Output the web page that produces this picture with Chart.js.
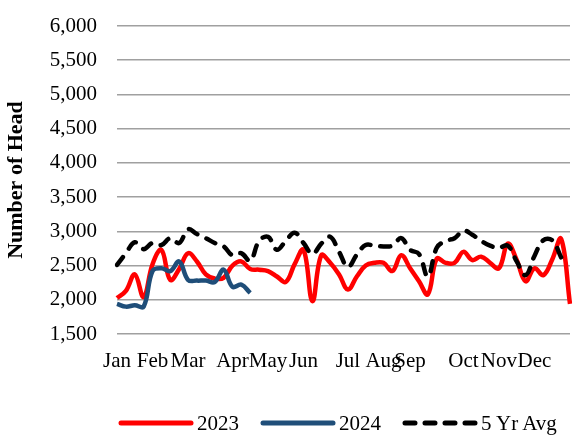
<!DOCTYPE html>
<html>
<head>
<meta charset="utf-8">
<script src="https://cdn.jsdelivr.net/npm/chart.js@4.4.1/dist/chart.umd.min.js"></script>
<style>
  html, body { margin: 0; padding: 0; background: #fff; }
  #wrap { position: relative; width: 577px; height: 436px; overflow: hidden; }
  #legend {
    position: absolute; left: 118px; top: 412px; height: 22px;
    display: flex; align-items: center; white-space: nowrap;
    font-family: "Liberation Serif", "Times New Roman", serif; font-size: 21px; line-height: 22px; color: #000;
  }
  #legend .item { display: flex; align-items: center; margin-right: 21px; white-space: nowrap; flex-shrink: 0; }
  #legend svg { margin-right: 3px; }
</style>
</head>
<body>
<div id="wrap">
  <canvas id="chart" width="577" height="436"></canvas>
  <div id="legend"></div>
</div>
<script>
// weekly head counts, 52 weeks
const monthNames = ['Jan', 'Feb', 'Mar', 'Apr', 'May', 'Jun', 'Jul', 'Aug', 'Sep', 'Oct', 'Nov', 'Dec'];
const monthStartWeek = [0, 4, 8, 13, 17, 21, 26, 30, 33, 39, 43, 47];

const data2023 = [2025, 2130, 2370, 2040, 2520, 2730, 2290, 2450, 2680, 2560,
  2370, 2310, 2320, 2500, 2560, 2450, 2440, 2420, 2340, 2260,
  2520, 2730, 1980, 2650, 2540, 2370, 2150, 2340, 2500, 2540,
  2540, 2420, 2650, 2460, 2270, 2080, 2600, 2540, 2540, 2700,
  2580, 2630, 2540, 2460, 2820, 2580, 2270, 2460, 2360, 2590,
  2890, 1940];

const data2024 = [1940, 1900, 1920, 1900, 2420, 2460, 2420, 2560, 2290, 2280,
  2280, 2260, 2440, 2190, 2220, 2100];

const data5yr = [2510, 2680, 2840, 2740, 2830, 2800, 2900, 2830, 3030, 2960,
  2900, 2830, 2780, 2650, 2680, 2570, 2860, 2920, 2730, 2860,
  2980, 2830, 2670, 2820, 2920, 2700, 2480, 2660, 2800, 2790,
  2780, 2790, 2900, 2730, 2670, 2340, 2760, 2860, 2900, 3010,
  2950, 2860, 2790, 2760, 2790, 2560, 2360, 2640, 2870, 2870,
  2620, null];

const weekLabels = data2023.map((v, i) => {
  const m = monthStartWeek.indexOf(i);
  return m >= 0 ? monthNames[m] : '';
});

const serif = '"Liberation Serif", "Times New Roman", serif';

const chart = new Chart(document.getElementById('chart'), {
  type: 'line',
  data: {
    labels: weekLabels,
    datasets: [
      {
        label: '2023',
        data: data2023,
        borderColor: '#ff0000',
        borderWidth: 4.5,
        order: 2
      },
      {
        label: '2024',
        data: data2024,
        borderColor: '#1f4e79',
        borderWidth: 4.5,
        order: 1
      },
      {
        label: '5 Yr Avg',
        data: data5yr,
        borderColor: '#000000',
        borderWidth: 4.5,
        borderDash: [10, 10],
        borderCapStyle: 'round',
        order: 0
      }
    ]
  },
  options: {
    responsive: false,
    animation: false,
    elements: {
      point: { radius: 0 },
      line: { tension: 0.4, fill: false }
    },
    layout: { padding: { top: 0, right: 4, bottom: 52, left: 0 } },
    plugins: {
      legend: { display: false },
      tooltip: { enabled: false }
    },
    scales: {
      x: {
        grid: { display: false },
        border: { display: false },
        ticks: {
          autoSkip: false,
          maxRotation: 0,
          padding: 7,
          color: '#000',
          font: { family: serif, size: 21 }
        },
        afterFit: (scale) => { scale.height = 50; }
      },
      y: {
        min: 1500,
        max: 6000,
        grid: { color: '#a0a0a0', lineWidth: 1.5, drawTicks: false },
        border: { display: false },
        ticks: {
          stepSize: 500,
          padding: 20,
          color: '#000',
          font: { family: serif, size: 21 },
          callback: (v) => v.toLocaleString('en-US')
        },
        title: {
          display: true,
          text: 'Number of Head',
          color: '#000',
          padding: { top: 3, bottom: 0 },
          font: { family: serif, size: 22, weight: 'bold' }
        },
        afterFit: (scale) => {
          scale.width = 117;
          scale.paddingTop = 26;
          scale.paddingBottom = 0;
        }
      }
    }
  }
});

// legend built from the datasets
const legend = document.getElementById('legend');
chart.data.datasets.forEach(ds => {
  const item = document.createElement('div');
  item.className = 'item';
  const dash = ds.borderDash ? `stroke-dasharray="${ds.borderDash.join(' ')}"` : '';
  item.innerHTML = `<svg width="76" height="10"><line x1="3" y1="5" x2="73" y2="5" stroke="${ds.borderColor}" stroke-width="5" stroke-linecap="round" ${dash}/></svg><span>${ds.label}</span>`;
  legend.appendChild(item);
});
</script>
</body>
</html>
